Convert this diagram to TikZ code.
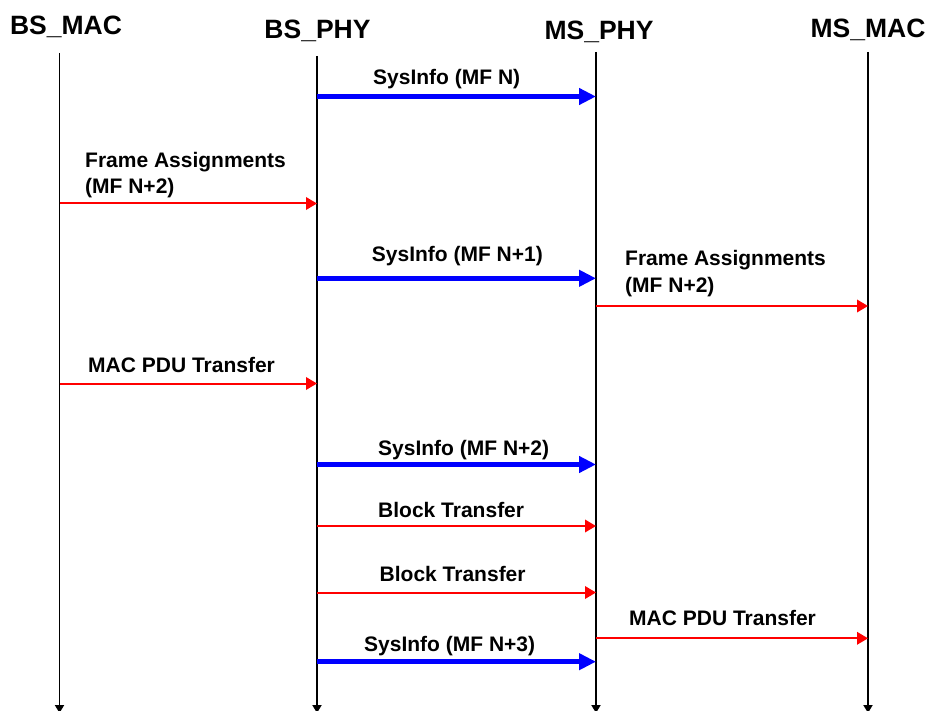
\documentclass[tikz,border=0pt]{standalone}
\usepackage{fontspec}
\setmainfont{Liberation Sans}
\usetikzlibrary{arrows.meta}
\begin{document}
\begin{tikzpicture}[x=1pt,y=-1pt,
  hdr/.style={font=\fontsize{26.5}{30}\selectfont\bfseries, inner sep=0pt, anchor=base},
  lbl/.style={font=\fontsize{21}{26}\selectfont\bfseries, inner sep=0pt, anchor=base west},
  life/.style={line width=1.8pt, black, -{Triangle[length=8pt,width=9pt]}},
  sysmsg/.style={line width=5.5pt, blue, -{Triangle[length=17pt,width=16pt]}},
  datamsg/.style={line width=2pt, red, -{Triangle[length=11pt,width=12.5pt]}}]
\useasboundingbox (0,0) rectangle (926,711);
% headers
\node[hdr] (hbsmac) at (66,35) {BS\_MAC};
\node[hdr] (hbsphy) at (317.5,38.3) {BS\_PHY};
\node[hdr] (hmsphy) at (599,40) {MS\_PHY};
\node[hdr] (hmsmac) at (868,37.7) {MS\_MAC};
% lifelines
\coordinate (bsmacT) at (59.5,53);  \coordinate (bsmacB) at (59.5,713);
\coordinate (bsphyT) at (317,56);   \coordinate (bsphyB) at (317,713);
\coordinate (msphyT) at (596,52);   \coordinate (msphyB) at (596,713);
\coordinate (msmacT) at (868,52);   \coordinate (msmacB) at (868,713);
\draw[life] (bsmacT) -- (bsmacB);
\draw[life] (bsphyT) -- (bsphyB);
\draw[life] (msphyT) -- (msphyB);
\draw[life] (msmacT) -- (msmacB);
% messages
\coordinate (m1a) at (317,96.5);  \coordinate (m1b) at (596,96.5);
\draw[sysmsg] (m1a) -- (m1b);
\node[lbl] (l1) at (373,85) {SysInfo (MF N)};

\coordinate (m2a) at (59.5,203.5); \coordinate (m2b) at (317,203.5);
\draw[datamsg] (m2a) -- (m2b);
\node[lbl] (l2a) at (85,167.3) {Frame Assignments};
\node[lbl] (l2b) at (85,193.3) {(MF N+2)};

\coordinate (m3a) at (317,278.3);  \coordinate (m3b) at (596,278.3);
\draw[sysmsg] (m3a) -- (m3b);
\node[lbl] (l3) at (371.7,261.7) {SysInfo (MF N+1)};

\coordinate (m4a) at (596,306); \coordinate (m4b) at (868,306);
\draw[datamsg] (m4a) -- (m4b);
\node[lbl] (l4a) at (625,266) {Frame Assignments};
\node[lbl] (l4b) at (625,292) {(MF N+2)};

\coordinate (m5a) at (59.5,383.5); \coordinate (m5b) at (317,383.5);
\draw[datamsg] (m5a) -- (m5b);
\node[lbl] (l5) at (88,372.7) {MAC PDU Transfer};

\coordinate (m6a) at (317,464.5);  \coordinate (m6b) at (596,464.5);
\draw[sysmsg] (m6a) -- (m6b);
\node[lbl] (l6) at (378,455) {SysInfo (MF N+2)};

\coordinate (m7a) at (317,526);  \coordinate (m7b) at (596,526);
\draw[datamsg] (m7a) -- (m7b);
\node[lbl] (l7) at (378,517) {Block Transfer};

\coordinate (m8a) at (317,592.5);  \coordinate (m8b) at (596,592.5);
\draw[datamsg] (m8a) -- (m8b);
\node[lbl] (l8) at (379.5,581.7) {Block Transfer};

\coordinate (m9a) at (596,638.3); \coordinate (m9b) at (868,638.3);
\draw[datamsg] (m9a) -- (m9b);
\node[lbl] (l9) at (629,625.7) {MAC PDU Transfer};

\coordinate (m10a) at (317,661.7);  \coordinate (m10b) at (596,661.7);
\draw[sysmsg] (m10a) -- (m10b);
\node[lbl] (l10) at (364,651.7) {SysInfo (MF N+3)};
\end{tikzpicture}
\end{document}
